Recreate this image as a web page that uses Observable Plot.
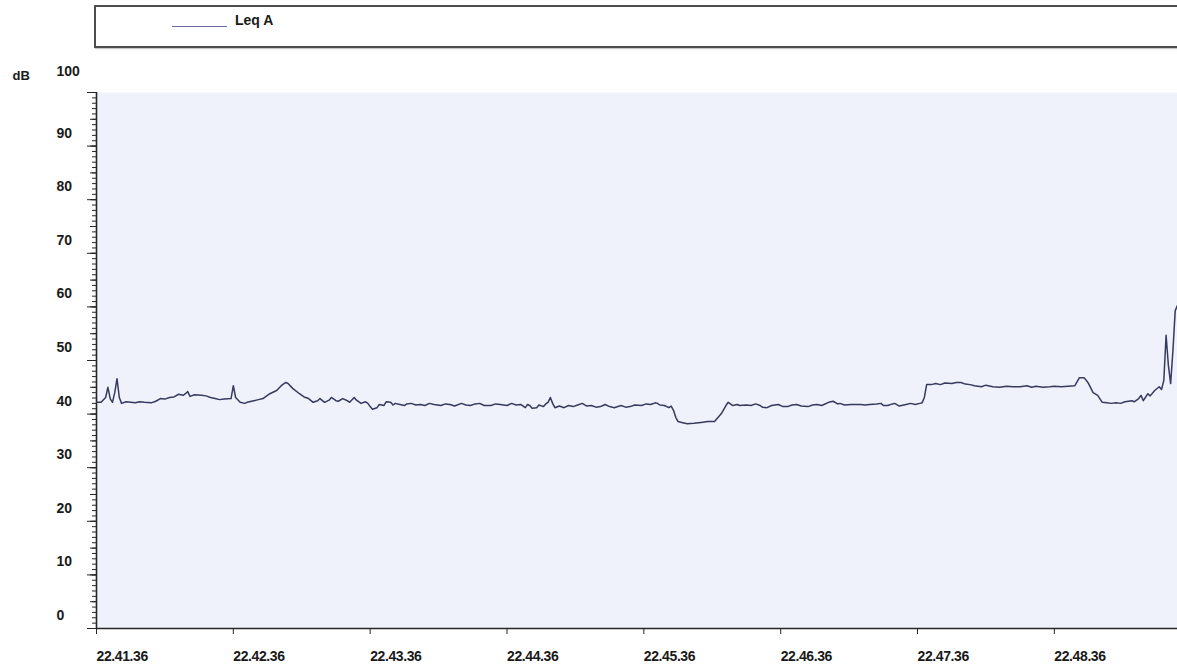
<!DOCTYPE html>
<html>
<head>
<meta charset="utf-8">
<script src="https://cdn.jsdelivr.net/npm/d3@7"></script>
<script src="https://cdn.jsdelivr.net/npm/@observablehq/plot@0.6"></script>
<style>
  body { margin: 0; background: #fff; font-family: "Liberation Sans", Arial, sans-serif; }
  #wrap { position: relative; width: 1177px; height: 669px; overflow: hidden; }
  #legend { position: relative; height: 55px; }
  #legend .box { position: absolute; left: 94px; top: 5px; width: 1100px; height: 39px;
                 border: 2px solid #4e4e4e; box-shadow: 1px 1px 1px #c8c8c8; }
  #legend .swatch { position: absolute; left: 172px; top: 26px; width: 55px; height: 0;
                    border-top: 1.5px solid #6b6f9c; }
  #legend .name { position: absolute; left: 235px; top: 12px; font-size: 14px; font-weight: bold; color: #1a1a1a; }
  #chart svg { display: block; }
  #chart svg text { font-weight: bold; }
  #chart svg g[aria-label="x-axis tick label"] text { letter-spacing: -0.4px; }
</style>
</head>
<body>
<div id="wrap">
  <div id="legend">
    <div class="box"></div>
    <div class="swatch"></div>
    <div class="name">Leq A</div>
  </div>
  <div id="chart"></div>
</div>
<script>
// Measurement start (hh, mm, ss) and the visible window length in seconds
const startClock = [22, 41, 36];
const windowSeconds = 474;

// Seconds since start of each reading
const elapsedSeconds = [
  0, 2, 4, 5, 6, 7, 8, 9, 10, 11, 13, 15, 17, 19, 21, 24, 26, 28, 30, 32,
  34, 36, 38, 39, 40, 41, 43, 46, 48, 50, 52, 54, 56, 59, 60, 61, 63, 65, 66, 69,
  71, 73, 76, 79, 81, 83, 84, 86, 89, 91, 93, 95, 97, 98, 100, 102, 103, 105, 106, 108,
  110, 111, 113, 114, 116, 118, 119, 120, 121, 123, 124, 126, 127, 129, 130, 131, 133, 135, 136, 138,
  140, 142, 144, 146, 148, 151, 153, 155, 157, 160, 162, 164, 166, 168, 170, 173, 175, 177, 180, 182,
  184, 186, 188, 189, 190, 191, 193, 194, 196, 197, 198, 199, 200, 201, 203, 205, 207, 209, 211, 213,
  215, 217, 219, 221, 223, 225, 227, 230, 232, 234, 236, 239, 241, 243, 245, 246, 247, 249, 251, 252,
  253, 254, 255, 257, 259, 262, 264, 266, 268, 271, 274, 276, 277, 279, 281, 282, 285, 287, 289, 291,
  292, 294, 296, 299, 301, 303, 305, 307, 309, 312, 314, 316, 318, 321, 323, 325, 326, 328, 331, 333,
  335, 337, 339, 342, 344, 345, 347, 349, 350, 352, 353, 355, 357, 359, 361, 362, 363, 364, 366, 368,
  370, 372, 375, 377, 379, 381, 383, 385, 388, 390, 393, 396, 399, 402, 405, 408, 410, 412, 415, 418,
  420, 423, 426, 429, 431, 433, 434, 435, 437, 439, 441, 443, 445, 447, 449, 451, 454, 455, 457, 458,
  459, 461, 462, 464, 466, 467, 468, 469, 470, 471, 472, 473, 474
];

// Leq A level in dB for each reading
const leqA = [
  42.2, 42.2, 43.1, 45.0, 42.9, 42.2, 44.0, 46.6, 43.1, 42.0, 42.3, 42.2, 42.1, 42.3, 42.2, 42.1, 42.4, 42.9, 42.8, 43.1,
  43.2, 43.7, 43.5, 43.8, 44.2, 43.3, 43.6, 43.5, 43.4, 43.1, 42.9, 42.7, 42.8, 42.9, 45.3, 43.1, 42.2, 42.0, 42.2, 42.5,
  42.7, 42.9, 43.8, 44.4, 45.3, 45.9, 45.7, 44.8, 43.8, 43.2, 42.9, 42.2, 42.5, 42.9, 42.2, 42.6, 43.1, 42.5, 42.4, 42.9,
  42.5, 42.2, 43.1, 42.6, 42.0, 42.3, 42.0, 41.4, 40.9, 41.2, 41.8, 41.6, 42.3, 42.2, 41.7, 42.0, 41.8, 41.6, 41.9, 42.0,
  41.7, 41.8, 41.6, 42.0, 41.8, 41.6, 41.9, 41.8, 41.5, 42.0, 41.7, 41.6, 41.9, 42.0, 41.6, 41.6, 41.9, 41.8, 41.6, 42.0,
  41.7, 41.8, 41.2, 41.8, 41.6, 41.1, 41.2, 41.7, 41.4, 41.9, 42.2, 43.1, 42.0, 41.2, 41.5, 41.2, 41.6, 41.4, 41.7, 42.0,
  41.5, 41.6, 41.3, 41.4, 41.8, 41.4, 41.2, 41.6, 41.3, 41.4, 41.7, 41.6, 41.9, 41.8, 42.1, 42.0, 41.7, 41.6, 41.2, 41.5,
  40.7, 39.4, 38.6, 38.4, 38.2, 38.3, 38.4, 38.5, 38.6, 38.6, 40.1, 41.6, 42.2, 41.6, 41.8, 41.6, 41.7, 41.6, 41.9, 41.6,
  41.3, 41.2, 41.6, 41.8, 41.4, 41.4, 41.7, 41.8, 41.5, 41.4, 41.7, 41.8, 41.6, 42.2, 42.4, 41.9, 42.0, 41.7, 41.8, 41.8,
  41.8, 41.7, 41.8, 41.9, 42.0, 41.6, 41.6, 41.9, 42.0, 41.5, 41.6, 41.8, 42.0, 41.8, 42.0, 42.1, 43.1, 45.5, 45.5, 45.7,
  45.5, 45.8, 45.7, 45.9, 45.9, 45.6, 45.5, 45.3, 45.1, 45.4, 45.1, 45.0, 45.2, 45.1, 45.1, 45.3, 45.0, 45.2, 45.0, 45.1,
  45.2, 45.1, 45.2, 45.3, 46.8, 46.8, 46.3, 45.7, 44.0, 43.5, 42.2, 42.1, 42.0, 42.1, 42.0, 42.3, 42.5, 42.3, 42.9, 43.5,
  42.5, 43.8, 43.4, 44.4, 45.1, 44.6, 46.3, 54.7, 49.1, 45.7, 51.9, 59.3, 60.3
];

// Axis ticks
const tickMinutes = [0, 1, 2, 3, 4, 5, 6, 7];
const timeLabels = ["22.41.36", "22.42.36", "22.43.36", "22.44.36", "22.45.36", "22.46.36", "22.47.36", "22.48.36"];
const dbTicks = [0, 10, 20, 30, 40, 50, 60, 70, 80, 90];
const dbTop = 100;

const base = new Date(2000, 0, 1, startClock[0], startClock[1], startClock[2]);
const toDate = s => new Date(base.getTime() + s * 1000);
const readings = elapsedSeconds.map((s, i) => ({time: toDate(s), db: leqA[i]}));
const xTicks = tickMinutes.map(m => toDate(m * 60));
const labelByTime = new Map(xTicks.map((d, i) => [+d, timeLabels[i]]));

const ink = "#262626";
const blank = () => "";

const chart = Plot.plot({
  width: 1177,
  height: 614,
  marginLeft: 96,
  marginRight: 0,
  marginTop: 37,
  marginBottom: 41,
  style: {fontFamily: "'Liberation Sans', Arial, sans-serif", color: "#1a1a1a", background: "transparent", overflow: "visible"},
  x: {type: "time", domain: [toDate(0), toDate(windowSeconds)], label: null},
  y: {domain: [0, dbTop], label: null},
  marks: [
    Plot.frame({fill: "#eff1fb", stroke: null}),
    // tick ladder: every dB, longer every 5 dB, longest every 10 dB
    Plot.axisY({ticks: d3.range(0, dbTop + 1, 1), tickSize: 4, tickFormat: blank, stroke: ink, label: null}),
    Plot.axisY({ticks: d3.range(0, dbTop + 1, 5), tickSize: 6, tickFormat: blank, stroke: ink, label: null}),
    Plot.axisY({ticks: [...dbTicks, dbTop], tickSize: 9, tickFormat: blank, stroke: ink, label: null}),
    // labels sit just above their ticks
    Plot.axisY({ticks: dbTicks, tickSize: 0, tickPadding: 40, textAnchor: "start", dy: -13,
                fontSize: 14, fill: "#1a1a1a", label: null}),
    Plot.axisY({ticks: [dbTop], tickSize: 0, tickPadding: 40, textAnchor: "start", dy: -21,
                fontSize: 14, fill: "#1a1a1a", label: null}),
    Plot.axisX({ticks: xTicks, tickSize: 6, tickPadding: 17, textAnchor: "start",
                tickFormat: d => labelByTime.get(+d), fontSize: 14, stroke: ink, fill: "#1a1a1a", label: null}),
    Plot.ruleX([toDate(0)], {stroke: ink, strokeWidth: 1.6}),
    Plot.ruleY([0], {stroke: ink, strokeWidth: 1.6}),
    Plot.line(readings, {x: "time", y: "db", stroke: "#363a5e", strokeWidth: 1.5, clip: true}),
    Plot.text(["dB"], {frameAnchor: "top-left", dx: -84, dy: -22, textAnchor: "start", fontSize: 13, fill: "#1a1a1a"})
  ]
});

document.getElementById("chart").append(chart);
</script>
</body>
</html>
